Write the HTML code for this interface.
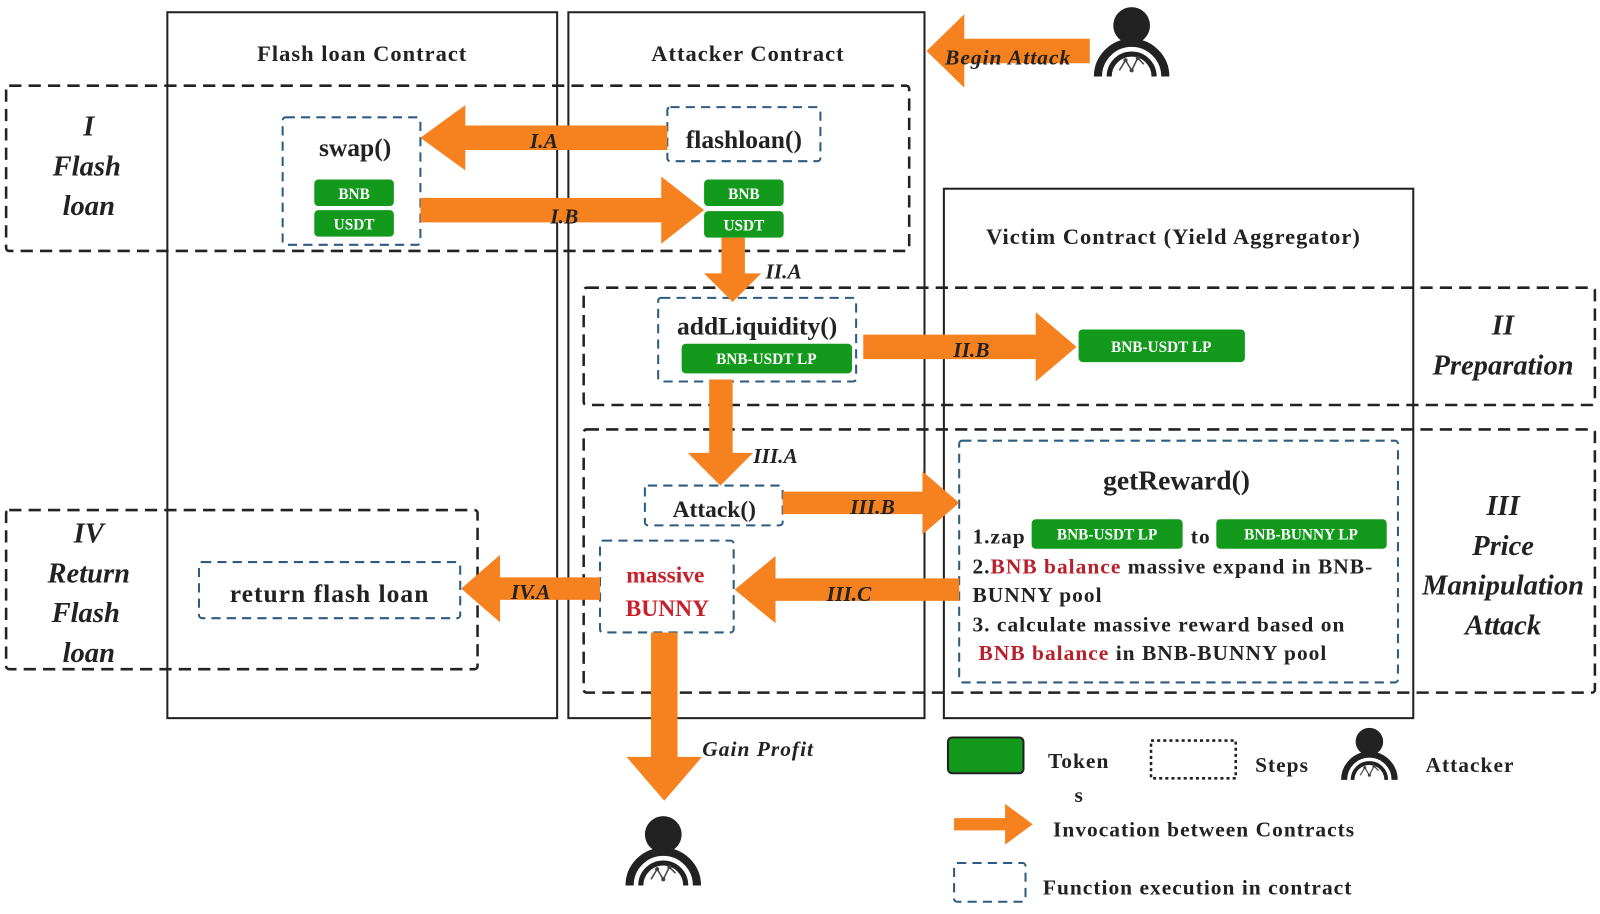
<!DOCTYPE html>
<html><head><meta charset="utf-8"><style>
html,body{margin:0;padding:0;background:#fff;}
svg{display:block;}
text{font-family:"Liberation Serif",serif;font-weight:bold;fill:#222;}
.it{font-style:italic;}
.tk{fill:#fff;font-size:15px;text-anchor:middle;}
.ls{letter-spacing:1px;}
</style></head><body>
<svg width="1600" height="914" viewBox="0 0 1568 896" preserveAspectRatio="none" xmlns="http://www.w3.org/2000/svg">
<defs>
<g id="att">
<circle cx="0" cy="-20" r="18" fill="#222"/>
<path d="M-33 30 A33 33 0 0 1 33 30" fill="none" stroke="#222" stroke-width="8"/>
<path d="M-22 30 A22 22 0 0 1 22 30" fill="none" stroke="#222" stroke-width="5"/>
<polyline points="-12,24 -6,14 0,24 6,12 12,18" fill="none" stroke="#444" stroke-width="1.5"/>
<circle cx="-6" cy="14" r="2" fill="#444"/><circle cx="6" cy="12" r="2" fill="#444"/><circle cx="0" cy="24" r="2" fill="#444"/>
</g>
</defs>
<g fill="none" stroke="#222" stroke-width="2">
<rect x="164" y="12" width="382" height="692"/>
<rect x="557" y="12" width="349" height="692"/>
<rect x="925" y="185" width="460" height="519"/>
</g>
<g fill="none" stroke="#222" stroke-width="2.5" stroke-dasharray="12,7">
<rect x="6" y="84" width="885" height="162" rx="3"/>
<rect x="572" y="282" width="991" height="115" rx="3"/>
<rect x="572" y="421" width="991" height="258" rx="3"/>
<rect x="6" y="500" width="462" height="156" rx="3"/>
</g>
<g fill="none" stroke="#2c5d80" stroke-width="2" stroke-dasharray="9,6">
<rect x="277" y="115" width="135" height="125" rx="3"/>
<rect x="654" y="105" width="150" height="53" rx="3"/>
<rect x="645" y="292" width="194" height="82" rx="3"/>
<rect x="632" y="476" width="135" height="39" rx="3"/>
<rect x="588" y="530" width="131" height="90" rx="3"/>
<rect x="195" y="551" width="256" height="55" rx="3"/>
<rect x="940" y="432" width="430" height="237" rx="3"/>
</g>
<g fill="#139a1c">
<rect x="308" y="176" width="78" height="26" rx="4"/>
<rect x="308" y="206" width="78" height="26" rx="4"/>
<rect x="690" y="176" width="78" height="26" rx="4"/>
<rect x="690" y="207" width="78" height="26" rx="4"/>
<rect x="668" y="337" width="167" height="29" rx="4"/>
<rect x="1057" y="323" width="163" height="32" rx="4"/>
<rect x="1011" y="509" width="148" height="29" rx="4"/>
<rect x="1192" y="509" width="167" height="29" rx="4"/>
<rect x="929" y="723" width="74" height="35" rx="4" stroke="#222" stroke-width="2"/>
</g>
<text class="tk" x="347" y="195">BNB</text>
<text class="tk" x="347" y="225">USDT</text>
<text class="tk" x="729" y="195">BNB</text>
<text class="tk" x="729" y="226">USDT</text>
<text class="tk" x="751" y="357">BNB-USDT LP</text>
<text class="tk" x="1138" y="345">BNB-USDT LP</text>
<text class="tk" x="1085" y="529">BNB-USDT LP</text>
<text class="tk" x="1275" y="529">BNB-BUNNY LP</text>
<g fill="#f5821f">
<polygon points="654,123 456,123 456,103 412,135 456,167 456,147 654,147"/>
<polygon points="412,194 648,194 648,173 690,206 648,239 648,218 412,218"/>
<polygon points="707,233 730,233 730,268 746,268 718,296 690,268 707,268"/>
<polygon points="846,328 1015,328 1015,306 1055,340 1015,374 1015,352 846,352"/>
<polygon points="695,372 718,372 718,444 738,444 706,476 674,444 695,444"/>
<polygon points="767,482 904,482 904,462 940,493 904,524 904,504 767,504"/>
<polygon points="940,567 760,567 760,545 720,578 760,611 760,589 940,589"/>
<polygon points="588,566 490,566 490,544 452,577 490,610 490,588 588,588"/>
<polygon points="638,620 664,620 664,742 688,742 651,785 614,742 638,742"/>
<polygon points="1068,38 945,38 945,14 908,50 945,86 945,62 1068,62"/>
<polygon points="935,802 985,802 985,788 1012,808 985,828 985,814 935,814"/>
</g>
<g font-size="22" text-anchor="middle" class="ls">
<text x="355" y="60" class="ls">Flash loan Contract</text>
<text x="733" y="60" class="ls">Attacker Contract</text>
<text x="1150" y="239" class="ls">Victim Contract (Yield Aggregator)</text>
</g>
<g font-size="28" text-anchor="middle">
<text class="it" x="87" y="133">I</text>
<text class="it" x="85" y="172">Flash</text>
<text class="it" x="87" y="211">loan</text>
<text class="it" x="1473" y="328">II</text>
<text class="it" x="1473" y="367">Preparation</text>
<text class="it" x="1473" y="505">III</text>
<text class="it" x="1473" y="544">Price</text>
<text class="it" x="1473" y="583">Manipulation</text>
<text class="it" x="1473" y="622">Attack</text>
<text class="it" x="87" y="532">IV</text>
<text class="it" x="87" y="571">Return</text>
<text class="it" x="84" y="610">Flash</text>
<text class="it" x="87" y="649">loan</text>
</g>
<g font-size="21" text-anchor="middle">
<text class="it" x="533" y="145">I.A</text>
<text class="it" x="553" y="219">I.B</text>
<text class="it" x="768" y="273">II.A</text>
<text class="it" x="952" y="350">II.B</text>
<text class="it" x="760" y="454">III.A</text>
<text class="it" x="855" y="504">III.B</text>
<text class="it" x="832" y="589">III.C</text>
<text class="it" x="520" y="587">IV.A</text>
<text class="it ls" x="743" y="741">Gain Profit</text>
<text class="it ls" x="988" y="63">Begin Attack</text>
</g>
<g font-size="25" text-anchor="middle">
<text x="348" y="153">swap()</text>
<text x="729" y="145">flashloan()</text>
<text x="742" y="328">addLiquidity()</text>
<text x="700" y="507" font-size="23">Attack()</text>
<text x="652" y="571" style="fill:#c8202a" font-size="23">massive</text>
<text x="654" y="604" style="fill:#c8202a" font-size="23">BUNNY</text>
<text x="323" y="590" class="ls">return flash loan</text>
<text x="1153" y="480" font-size="27">getReward()</text>
</g>
<g font-size="21" class="ls">
<text x="953" y="533" class="ls">1.zap</text>
<text x="1167" y="533" class="ls">to</text>
<text x="953" y="562" class="ls">2.<tspan style="fill:#b8202a">BNB balance</tspan> massive expand in BNB-</text>
<text x="953" y="590" class="ls">BUNNY pool</text>
<text x="953" y="619" class="ls">3. calculate massive reward based on</text>
<text x="959" y="647" class="ls"><tspan style="fill:#b8202a">BNB balance</tspan> in BNB-BUNNY pool</text>
<text x="1027" y="753" class="ls">Token</text>
<text x="1053" y="786">s</text>
<text x="1230" y="757" class="ls">Steps</text>
<text x="1397" y="757" class="ls">Attacker</text>
<text x="1032" y="820" class="ls">Invocation between Contracts</text>
<text x="1022" y="877" class="ls">Function execution in contract</text>
</g>
<rect x="1128" y="726" width="83" height="37" fill="none" stroke="#222" stroke-width="2.5" stroke-dasharray="3,3"/>
<rect x="935" y="846" width="70" height="38" rx="3" fill="none" stroke="#2c5d80" stroke-width="2" stroke-dasharray="9,6"/>
<use href="#att" x="1109" y="45"/>
<use href="#att" x="650" y="838"/>
<use href="#att" transform="translate(1342,742) scale(0.75)"/>
</svg>
</body></html>
